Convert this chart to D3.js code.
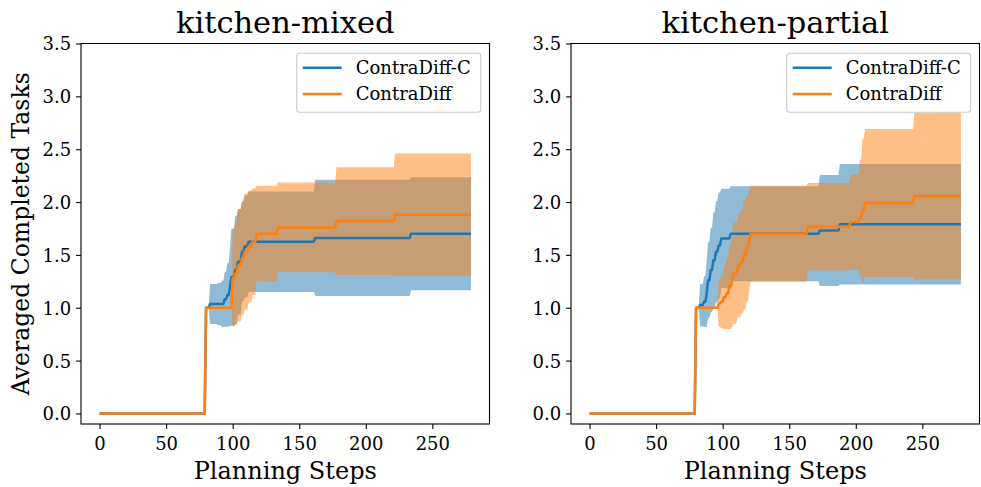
<!DOCTYPE html>
<html>
<head>
<meta charset="utf-8">
<script src="https://cdn.jsdelivr.net/npm/d3@7"></script>
<style>
  html, body { margin: 0; padding: 0; background: #ffffff; }
  svg { display: block; }
  text { font-family: "DejaVu Serif", serif; fill: #000; }
</style>
</head>
<body>
<svg id="chart" width="981" height="487"></svg>
<script>
// ---------------- data ----------------
const panelTitles = ["kitchen-mixed", "kitchen-partial"];
const seriesNames = ["ContraDiff-C", "ContraDiff"];
const seriesColors = ["#1f77b4", "#ff7f0e"];
const xTicks = [0, 50, 100, 150, 200, 250];
const yTicks = [0, 0.5, 1.0, 1.5, 2.0, 2.5, 3.0, 3.5];
const xLabel = "Planning Steps";
const yLabel = "Averaged Completed Tasks";

// kitchen-mixed, ContraDiff-C  (value holds from each step until the next listed step)
const mixedCSteps = [0, 80, 83, 89, 92, 94, 96, 98, 99, 102, 104, 107, 109, 112, 162, 234, 279];
const mixedCMean  = [0, 1.0, 1.035, 1.035, 1.035, 1.08, 1.12, 1.20, 1.29, 1.357, 1.435, 1.53, 1.58, 1.625, 1.66, 1.70, 1.70];
const mixedCStd   = [0, 0, 0.19, 0.20, 0.22, 0.26, 0.30, 0.37, 0.46, 0.51, 0.50, 0.47, 0.48, 0.475, 0.55, 0.535, 0.535];

// kitchen-mixed, ContraDiff
const mixedSteps = [0, 80, 100, 102, 104, 107, 109, 112, 115, 118, 134, 178, 222, 279];
const mixedMean  = [0, 1.0, 1.28, 1.325, 1.40, 1.47, 1.53, 1.58, 1.625, 1.70, 1.76, 1.82, 1.88, 1.88];
const mixedStd   = [0, 0, 0.46, 0.485, 0.53, 0.54, 0.55, 0.53, 0.505, 0.455, 0.425, 0.51, 0.58, 0.58];

// kitchen-partial, ContraDiff-C
const partialCSteps = [0, 80, 83, 86, 88, 89, 91, 93, 95, 97, 99, 106, 173, 188, 279];
const partialCMean  = [0, 1.0, 1.025, 1.057, 1.135, 1.26, 1.357, 1.45, 1.53, 1.59, 1.656, 1.70, 1.73, 1.79, 1.79];
const partialCStd   = [0, 0, 0.20, 0.24, 0.32, 0.36, 0.40, 0.45, 0.48, 0.50, 0.47, 0.45, 0.525, 0.57, 0.57];

// kitchen-partial, ContraDiff
const partialSteps = [0, 80, 97, 99, 101, 103, 105, 107, 108, 111, 112, 114, 116, 118, 120, 121, 164, 196, 203, 205, 207, 244, 279];
const partialMean  = [0, 1.0, 1.04, 1.057, 1.10, 1.135, 1.20, 1.245, 1.325, 1.357, 1.40, 1.435, 1.50, 1.56, 1.64, 1.70, 1.766, 1.81, 1.85, 1.92, 1.99, 2.057, 2.057];
const partialStd   = [0, 0, 0.22, 0.25, 0.30, 0.335, 0.40, 0.43, 0.48, 0.46, 0.49, 0.49, 0.52, 0.50, 0.47, 0.455, 0.414, 0.45, 0.55, 0.68, 0.70, 0.79, 0.79];

// ---------------- drawing ----------------
// Per-step series: each listed value is held until the step just before the next change.
function toRows(steps, mean, std) {
  const rows = [];
  steps.forEach((s, i) => {
    if (i > 0 && s - 1 > steps[i - 1]) {
      rows.push({ step: s - 1, mean: mean[i - 1], std: std[i - 1] });
    }
    rows.push({ step: s, mean: mean[i], std: std[i] });
  });
  return rows;
}

const panels = [
  { title: panelTitles[0], left: 81, right: 489.5, showYLabel: true,
    series: [toRows(mixedCSteps, mixedCMean, mixedCStd), toRows(mixedSteps, mixedMean, mixedStd)] },
  { title: panelTitles[1], left: 571, right: 979.5, showYLabel: false,
    series: [toRows(partialCSteps, partialCMean, partialCStd), toRows(partialSteps, partialMean, partialStd)] }
];

const svg = d3.select("#chart");
svg.append("rect").attr("width", 981).attr("height", 487).attr("fill", "#ffffff");

const plotTop = 43.5, plotBottom = 424;
const y = d3.scaleLinear().domain([-0.1, 3.5]).range([plotBottom, plotTop]);

panels.forEach(p => {
  const x = d3.scaleLinear().domain([-13.95, 292.95]).range([p.left, p.right]);
  const g = svg.append("g");

  const area = d3.area()
    .x(d => x(d.step))
    .y0(d => y(d.mean - d.std))
    .y1(d => y(d.mean + d.std))
    .curve(d3.curveLinear);
  const line = d3.line()
    .x(d => x(d.step))
    .y(d => y(d.mean))
    .curve(d3.curveLinear);

  p.series.forEach((rows, i) => {
    g.append("path").attr("d", area(rows))
      .attr("fill", seriesColors[i]).attr("fill-opacity", 0.5).attr("stroke", "none");
  });
  p.series.forEach((rows, i) => {
    g.append("path").attr("d", line(rows))
      .attr("fill", "none").attr("stroke", seriesColors[i])
      .attr("stroke-width", 2.5).attr("stroke-linejoin", "round").attr("stroke-linecap", "butt");
  });

  // axes
  const xAxis = d3.axisBottom(x).tickValues(xTicks).tickFormat(d3.format("d"))
    .tickSize(4.9).tickPadding(8.5);
  const gx = g.append("g").attr("transform", `translate(0,${plotBottom})`).call(xAxis);
  gx.select(".domain").remove();
  gx.selectAll(".tick line").attr("stroke", "#000").attr("stroke-width", 1.1);
  gx.selectAll(".tick text").attr("font-size", 18).attr("font-family", "DejaVu Serif").attr("fill", "#000");

  const yAxis = d3.axisLeft(y).tickValues(yTicks).tickFormat(d3.format(".1f"))
    .tickSize(4.9).tickPadding(5);
  const gy = g.append("g").attr("transform", `translate(${p.left},0)`).call(yAxis);
  gy.select(".domain").remove();
  gy.selectAll(".tick line").attr("stroke", "#000").attr("stroke-width", 1.1);
  gy.selectAll(".tick text").attr("font-size", 18).attr("font-family", "DejaVu Serif")
    .attr("fill", "#000").attr("dy", "0.36em");

  // frame
  g.append("rect").attr("x", p.left).attr("y", plotTop)
    .attr("width", p.right - p.left).attr("height", plotBottom - plotTop)
    .attr("fill", "none").attr("stroke", "#000").attr("stroke-width", 1.1);

  // title
  g.append("text").attr("x", (p.left + p.right) / 2).attr("y", 33)
    .attr("text-anchor", "middle").attr("font-size", 30.5).text(p.title);

  // x label
  g.append("text").attr("x", (p.left + p.right) / 2).attr("y", 479)
    .attr("text-anchor", "middle").attr("font-size", 24).text(xLabel);

  if (p.showYLabel) {
    g.append("text").attr("transform", `translate(29,${(plotTop + plotBottom) / 2}) rotate(-90)`)
      .attr("text-anchor", "middle").attr("font-size", 23.5).text(yLabel);
  }

  // legend
  const lgRight = p.right - 8.8;
  const lgW = 184, lgH = 59;
  const lg = g.append("g").attr("transform", `translate(${lgRight - lgW},53.3)`);
  lg.append("rect").attr("width", lgW).attr("height", lgH).attr("rx", 3).attr("ry", 3)
    .attr("fill", "#ffffff").attr("fill-opacity", 0.8)
    .attr("stroke", "#cccccc").attr("stroke-width", 1.1);
  seriesNames.forEach((name, i) => {
    const cy = 14.4 + i * 26.3;
    lg.append("line").attr("x1", 6).attr("x2", 45).attr("y1", cy).attr("y2", cy)
      .attr("stroke", seriesColors[i]).attr("stroke-width", 2.5);
    lg.append("text").attr("x", 59).attr("y", cy + 6.3).attr("font-size", 18).text(name);
  });
});
</script>
</body>
</html>
